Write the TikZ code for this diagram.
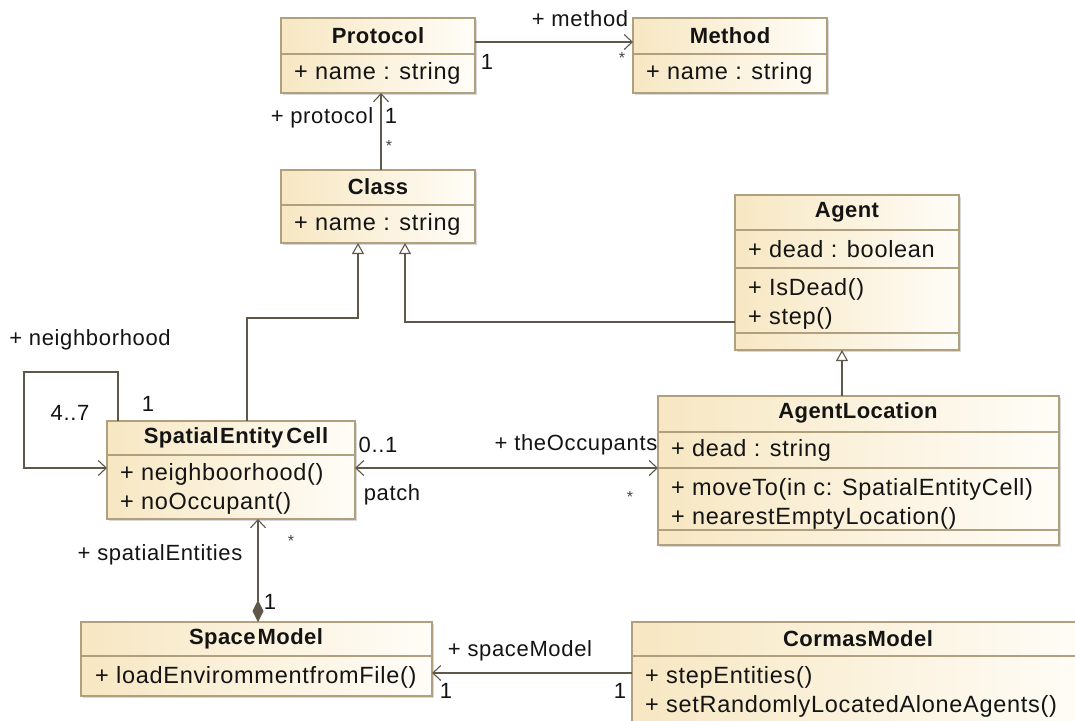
\documentclass[tikz,border=0pt]{standalone}
\usepackage{fontspec}
\setmainfont{Liberation Sans}
\newfontfamily\memberfont[LetterSpace=3]{Liberation Sans}
\newfontfamily\titlefont[LetterSpace=2]{Liberation Sans}
\usetikzlibrary{arrows.meta,shadows,calc}
\definecolor{boxL}{HTML}{F7E7C2}
\definecolor{boxR}{HTML}{FFFDF8}
\definecolor{boxB}{HTML}{B0A07E}
\definecolor{lineC}{HTML}{5F574A}
\definecolor{txt}{HTML}{141414}
\tikzset{
  cls/.style={draw=boxB, line width=1.3pt, left color=boxL, right color=boxR, anchor=north west, inner sep=0pt, outer sep=0pt,
    drop shadow={shadow xshift=2pt, shadow yshift=-2pt, fill=black!30, opacity=0.5}},
  ttl/.style={font=\titlefont\fontsize{22}{26}\selectfont\bfseries, inner sep=0pt, text=txt},
  member/.style={font=\memberfont\fontsize{23.5}{27}\selectfont, anchor=west, inner sep=0pt, text=txt},
  lbl/.style={font=\memberfont\fontsize{22}{26}\selectfont, inner sep=0pt, text=txt},
  star/.style={font=\fontsize{16}{18}\selectfont, inner sep=0pt, text=txt!80},
  divl/.style={draw=boxB, line width=1.2pt},
  conn/.style={draw=lineC, line width=1.3pt},
  openhead/.style={-{Straight Barb[length=8pt,width=15pt,line width=1.1pt]}},
  bothhead/.style={{Straight Barb[length=8pt,width=15pt,line width=1.1pt]}-{Straight Barb[length=8pt,width=15pt,line width=1.1pt]}},
  genhead/.style={-{Triangle[length=11pt,width=12pt,fill=white,line width=1.1pt]}},
  comphead/.style={{Diamond[length=22pt,width=11pt]}-{Straight Barb[length=8pt,width=15pt,line width=1.1pt]}},
}
\begin{document}
\begin{tikzpicture}[x=1pt,y=1pt]
\useasboundingbox (0,0) rectangle (1075,-720);
\fill[white] (0,0) rectangle (1075,-720);

% ---------- Protocol ----------
\node[cls, minimum width=194pt, minimum height=75pt] (prot) at (281,-18) {};
\draw[divl] (281,-54) -- (475,-54);
\node[ttl] (prot-t) at (378,-36) {Protocol};
\node[member] (prot-a) at (294,-73) {+ name : string};

% ---------- Method ----------
\node[cls, minimum width=194pt, minimum height=75pt] (meth) at (633,-18) {};
\draw[divl] (633,-54) -- (827,-54);
\node[ttl] (meth-t) at (730,-36) {Method};
\node[member] (meth-a) at (646,-73) {+ name : string};

% ---------- Class ----------
\node[cls, minimum width=194pt, minimum height=73pt] (cls) at (281,-170) {};
\draw[divl] (281,-205) -- (475,-205);
\node[ttl] (cls-t) at (378,-187) {Class};
\node[member] (cls-a) at (294,-224) {+ name : string};

% ---------- Agent ----------
\node[cls, minimum width=224pt, minimum height=155pt] (ag) at (735,-195) {};
\draw[divl] (735,-230) -- (959,-230);
\draw[divl] (735,-268) -- (959,-268);
\draw[divl] (735,-333) -- (959,-333);
\node[ttl] (ag-t) at (847,-212) {Agent};
\node[member] (ag-a) at (748,-249) {+ dead : boolean};
\node[member] (ag-o1) at (748,-289) {+ IsDead()};
\node[member] (ag-o2) at (748,-318) {+ step()};

% ---------- AgentLocation ----------
\node[cls, minimum width=401pt, minimum height=149pt] (al) at (658,-396) {};
\draw[divl] (658,-432) -- (1059,-432);
\draw[divl] (658,-468) -- (1059,-468);
\draw[divl] (658,-530) -- (1059,-530);
\node[ttl] (al-t) at (858,-413) {AgentLocation};
\node[member] (al-a) at (671,-450) {+ dead : string};
\node[member] (al-o1) at (671,-489) {+ moveTo(in c: SpatialEntityCell)};
\node[member] (al-o2) at (671,-518) {+ nearestEmptyLocation()};

% ---------- SpatialEntityCell ----------
\node[cls, minimum width=248pt, minimum height=98pt] (sec) at (107,-421) {};
\draw[divl] (107,-455) -- (355,-455);
\node[ttl] (sec-t) at (236,-438) {Spatial\kern1.5pt Entity\kern3pt Cell};
\node[member] (sec-o1) at (120,-474) {+ neighboorhood()};
\node[member] (sec-o2) at (120,-503) {+ noOccupant()};

% ---------- SpaceModel ----------
\node[cls, minimum width=351pt, minimum height=74pt] (sm) at (81,-622) {};
\draw[divl] (81,-656) -- (432,-656);
\node[ttl] (sm-t) at (256,-639) {Space\kern2pt Model};
\node[member] (sm-o1) at (95,-677) {+ loadEnvirommentfromFile()};

% ---------- CormasModel ----------
\node[cls, minimum width=460pt, minimum height=115pt] (cm) at (632,-622) {};
\draw[divl] (632,-656) -- (1092,-656);
\node[ttl] (cm-t) at (858,-639) {CormasModel};
\node[member] (cm-o1) at (645,-677) {+ stepEntities()};
\node[member] (cm-o2) at (645,-706) {+ setRandomlyLocatedAloneAgents()};

% ---------- helper coordinates ----------
\coordinate (y42) at (0,-42);
\coordinate (x381) at (381,0);
\coordinate (y322) at (0,-322);
\coordinate (x405) at (405,0);
\coordinate (x247) at (247,0);
\coordinate (p358) at (358,-318);
\coordinate (x358) at (358,0);
\coordinate (x842) at (842,0);
\coordinate (y468) at (0,-468);
\coordinate (x118) at (118,0);
\coordinate (loopA) at (118,-372);
\coordinate (loopB) at (24,-468);
\coordinate (x258) at (258,0);
\coordinate (y673) at (0,-673);

% ---------- connectors ----------
\draw[conn, openhead] (prot.east |- y42) -- (meth.west |- y42);
\draw[conn, openhead] (cls.north -| x381) -- (prot.south -| x381);
\draw[conn, genhead] (ag.west |- y322) -| (cls.south -| x405);
\draw[conn, genhead] (sec.north -| x247) |- (p358) -- (cls.south -| x358);
\draw[conn, genhead] (al.north -| x842) -- (ag.south -| x842);
\draw[conn, openhead] (sec.north -| x118) -- (loopA) -| (loopB) -- (sec.west |- y468);
\draw[conn, bothhead] (sec.east |- y468) -- (al.west |- y468);
\draw[conn, comphead] (sm.north -| x258) -- (sec.south -| x258);
\draw[conn, openhead] (cm.west |- y673) -- (sm.east |- y673);

% ---------- labels ----------
\node[lbl] (l-method) at (580,-19) {+ method};
\node[lbl] (l-m1) at (487,-62) {1};
\node[star] (l-m2) at (622,-58) {*};
\node[lbl] (l-protocol) at (322,-118) {+ protocol};
\node[lbl] (l-p1) at (391,-116) {1};
\node[star] (l-p2) at (389,-146) {*};
\node[lbl] (l-neigh) at (90,-340) {+ neighborhood};
\node[lbl] (l-n47) at (70,-413) {4..7};
\node[lbl] (l-n1) at (148,-404) {1};
\node[lbl] (l-o01) at (378,-445) {0..1};
\node[lbl] (l-occ) at (576,-445) {+ theOccupants};
\node[lbl] (l-patch) at (392,-495) {patch};
\node[star] (l-ostar) at (630,-497) {*};
\node[lbl] (l-spat) at (160,-555) {+ spatialEntities};
\node[star] (l-sstar) at (291,-541) {*};
\node[lbl] (l-s1) at (270,-602) {1};
\node[lbl] (l-spm) at (520,-651) {+ spaceModel};
\node[lbl] (l-c1) at (446,-691) {1};
\node[lbl] (l-c2) at (620,-691) {1};
\end{tikzpicture}
\end{document}
